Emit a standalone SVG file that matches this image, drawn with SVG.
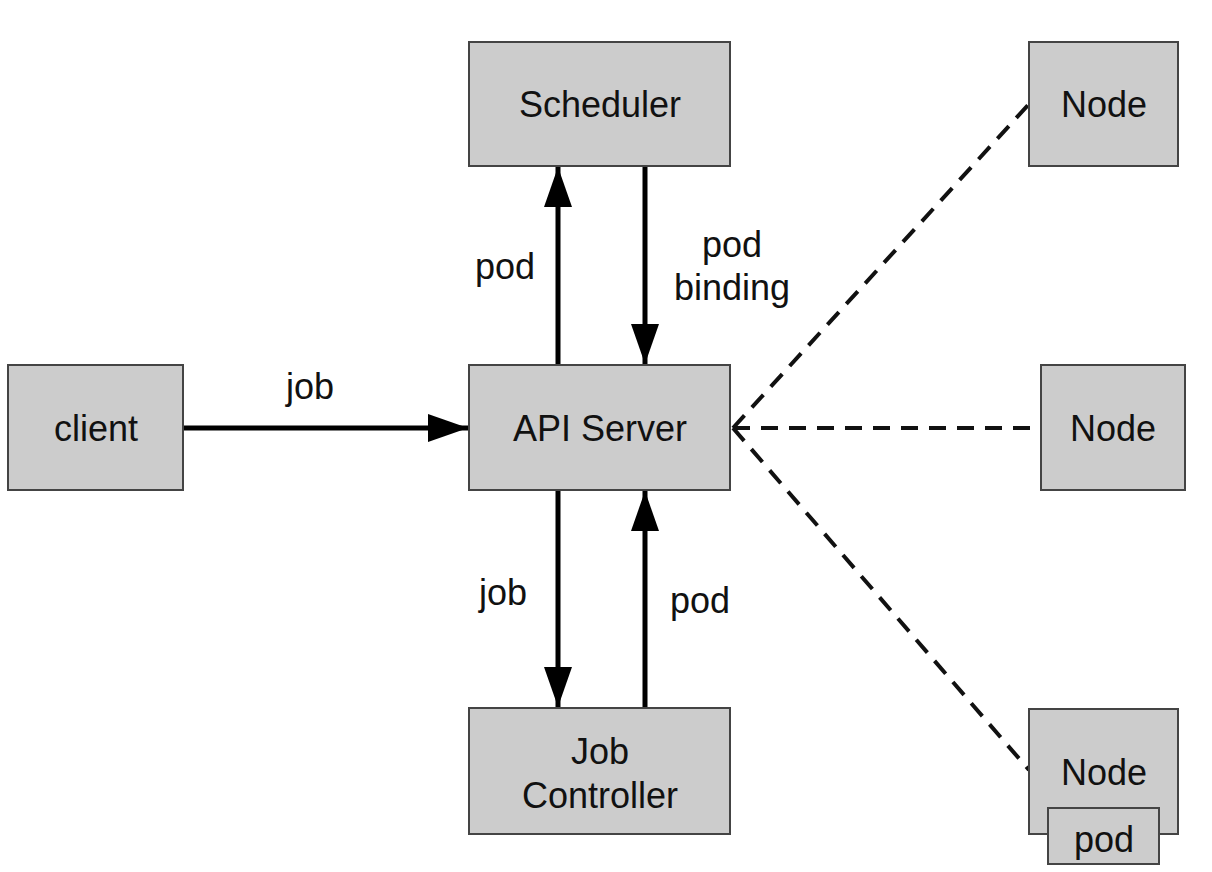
<svg xmlns="http://www.w3.org/2000/svg" width="1212" height="872" viewBox="0 0 1212 872">
<style>
.box{fill:#cccccc;stroke:#444;stroke-width:2}
.t{font-family:"Liberation Sans",Arial,sans-serif;font-size:36px;fill:#111;text-anchor:middle}
.a{stroke:#000;stroke-width:5;fill:none}
.d{stroke:#111;stroke-width:4;fill:none;stroke-dasharray:17 11}
</style>
<defs>
<marker id="ah" viewBox="0 0 40 28" refX="40" refY="14" markerWidth="40" markerHeight="28" markerUnits="userSpaceOnUse" orient="auto">
<path d="M0,0 L40,14 L0,28 Z" fill="#000"/>
</marker>
</defs>
<rect width="1212" height="872" fill="#fff"/>
<g id="connectors">
<line class="a" x1="558" y1="365" x2="558" y2="167" marker-end="url(#ah)"/>
<line class="a" x1="645" y1="166" x2="645" y2="364" marker-end="url(#ah)"/>
<line class="a" x1="183" y1="428" x2="468" y2="428" marker-end="url(#ah)"/>
<line class="a" x1="558" y1="490" x2="558" y2="707" marker-end="url(#ah)"/>
<line class="a" x1="645" y1="708" x2="645" y2="491" marker-end="url(#ah)"/>
<line class="d" x1="733" y1="428" x2="1029" y2="104"/>
<line class="d" x1="733" y1="428" x2="1041" y2="428"/>
<line class="d" x1="733" y1="428" x2="1029" y2="770"/>
<text class="t" x="310" y="399">job</text>
<text class="t" x="505" y="279">pod</text>
<text class="t" x="732" y="257">pod</text>
<text class="t" x="732" y="300">binding</text>
<text class="t" x="503" y="605">job</text>
<text class="t" x="700" y="613">pod</text>
</g>
<g id="scheduler"><rect class="box" x="469" y="42" width="261" height="124"/><text class="t" x="600" y="117">Scheduler</text></g>
<g id="client"><rect class="box" x="8" y="365" width="175" height="125"/><text class="t" x="96" y="441">client</text></g>
<g id="api-server"><rect class="box" x="469" y="365" width="261" height="125"/><text class="t" x="600" y="441">API Server</text></g>
<g id="job-controller"><rect class="box" x="469" y="708" width="261" height="126"/><text class="t" x="600" y="764">Job</text><text class="t" x="600" y="808">Controller</text></g>
<g id="node-1"><rect class="box" x="1029" y="42" width="149" height="124"/><text class="t" x="1104" y="117">Node</text></g>
<g id="node-2"><rect class="box" x="1041" y="365" width="144" height="125"/><text class="t" x="1113" y="441">Node</text></g>
<g id="node-3"><rect class="box" x="1029" y="709" width="149" height="125"/><text class="t" x="1104" y="785">Node</text>
<g id="pod"><rect class="box" x="1048" y="808" width="111" height="56"/><text class="t" x="1104" y="852">pod</text></g></g>
</svg>
